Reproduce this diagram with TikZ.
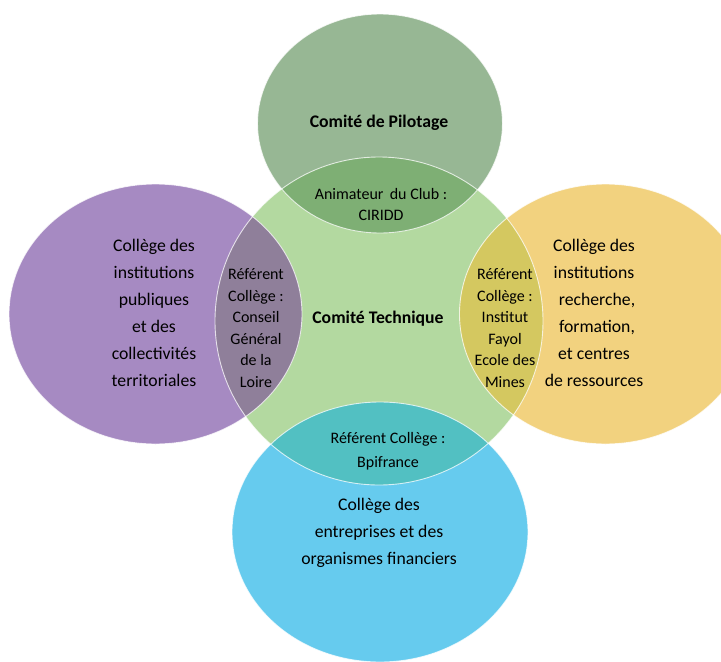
\documentclass[tikz,border=0pt]{standalone}
\usepackage{fontspec}
\setmainfont{Carlito}
\usepackage{tikz}
\usepackage{xcolor}

\definecolor{pilotfill}{RGB}{151,183,148}
\definecolor{pilotover}{RGB}{126,175,116}
\definecolor{techfill}{RGB}{179,217,160}
\definecolor{publicfill}{RGB}{166,138,194}
\definecolor{publicover}{RGB}{143,127,154}
\definecolor{searchfill}{RGB}{242,210,127}
\definecolor{searchover}{RGB}{212,200,96}
\definecolor{firmfill}{RGB}{102,203,238}
\definecolor{firmover}{RGB}{82,192,194}

\begin{document}
\begin{tikzpicture}[
  x=1pt,
  y=-1pt,
  rim/.style={draw=white,line width=.9pt,opacity=.75},
  bigtext/.style={align=center,inner sep=0pt,font=\fontsize{17.7}{27}\selectfont},
  reftext/.style={align=center,inner sep=0pt,font=\fontsize{16}{21.6}\selectfont},
  titletext/.style={align=center,inner sep=0pt,font=\fontsize{17.7}{22}\selectfont\bfseries}
]
\useasboundingbox (0,0) rectangle (721,662);

% circles
\fill[techfill] (379,321) circle[radius=164];
\fill[pilotfill] (380,123.5) ellipse[x radius=122.5,y radius=109.5];
\fill[publicfill] (155.5,314) ellipse[x radius=146.5,y radius=130];
\fill[searchfill] (605.5,314) ellipse[x radius=146,y radius=130];
\fill[firmfill] (380,532) ellipse[x radius=148,y radius=130];

% overlaps with the centre
\begin{scope}
  \clip (379,321) circle[radius=164];
  \fill[pilotover] (380,123.5) ellipse[x radius=122.5,y radius=109.5];
  \fill[publicover] (155.5,314) ellipse[x radius=146.5,y radius=130];
  \fill[searchover] (605.5,314) ellipse[x radius=146,y radius=130];
  \fill[firmover] (380,532) ellipse[x radius=148,y radius=130];
\end{scope}

\draw[rim] (379,321) circle[radius=164];
\draw[rim] (380,123.5) ellipse[x radius=122.5,y radius=109.5];
\draw[rim] (155.5,314) ellipse[x radius=146.5,y radius=130];
\draw[rim] (605.5,314) ellipse[x radius=146,y radius=130];
\draw[rim] (380,532) ellipse[x radius=148,y radius=130];

% texts
\node[titletext] (pilotage) at (379,123) {Comité de Pilotage};
\node[titletext] (technique) at (378,319) {Comité Technique};
\node[reftext,font=\fontsize{16}{21}\selectfont] (animateur) at (381,204)
  {Animateur\, du Club :\\CIRIDD};

\node[bigtext] (publiques) at (154,313)
  {Collège des\\institutions\\publiques\\et des\\collectivités\\territoriales};
\node[reftext] (refloire) at (256,328)
  {Référent\\Collège :\\Conseil\\Général\\de la\\Loire};

\node[bigtext] (recherche) at (594,313)
  {Collège des\\institutions\\\hspace*{6pt}recherche,\\\hspace*{6pt}formation,\\et centres\\de ressources};
\node[reftext] (reffayol) at (505,328)
  {Référent\\Collège :\\Institut\\Fayol\\Ecole des\\Mines};

\node[reftext,font=\fontsize{16}{24}\selectfont] (refbpi) at (388,451)
  {Référent Collège :\\Bpifrance};
\node[bigtext] (entreprises) at (379,533)
  {Collège des\\entreprises et des\\organismes financiers};

\end{tikzpicture}
\end{document}
